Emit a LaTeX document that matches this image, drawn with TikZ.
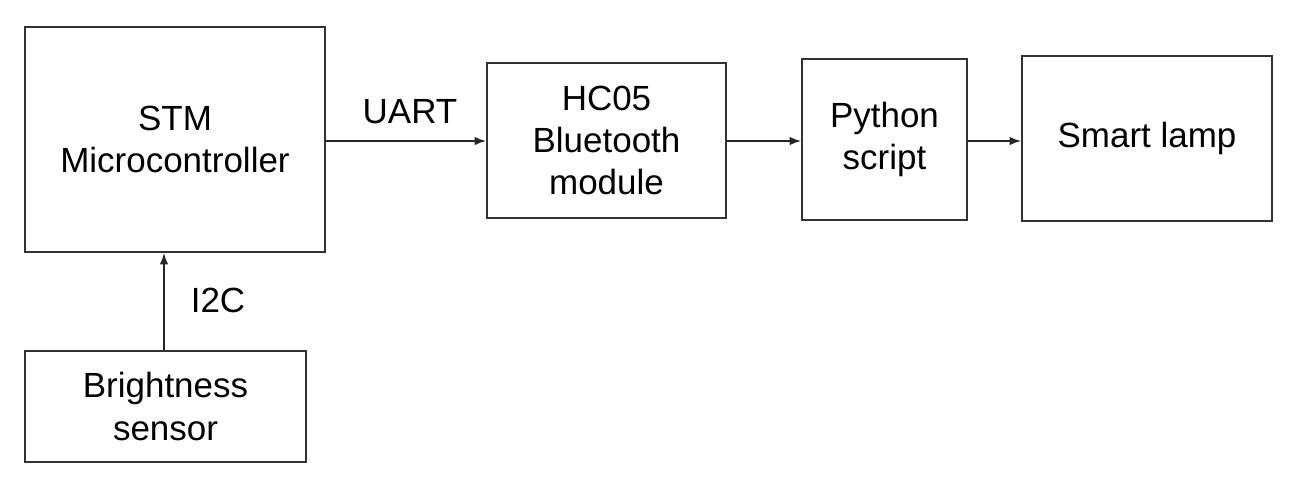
\documentclass[tikz,border=0pt]{standalone}
\usepackage{fontspec}
\setmainfont{Liberation Sans}
\usetikzlibrary{positioning}
\usetikzlibrary{arrows.meta}

\begin{document}
\begin{tikzpicture}[>={Latex[length=2.3mm,width=1.7mm]}, font=\fontsize{19.9}{24}\selectfont,
                    block/.style={rectangle,draw=black!80,line width=1.1pt,inner sep=0pt,align=center},
                    link/.style={->,draw=black!85,line width=0.8pt}]
      \useasboundingbox (0,0) rectangle (26.08,9.72);

      \node[block, minimum width=6cm, minimum height=4.5cm] (stm) at (3.5,6.93) {STM\\Microcontroller};
      \node[block, minimum width=4.78cm, minimum height=3.1cm] (hc) at (12.13,6.91) {HC05\\Bluetooth\\module};
      \node[block, minimum width=3.3cm, minimum height=3.22cm] (py) at (17.69,6.93) {Python\\script};
      \node[block, minimum width=5cm, minimum height=3.3cm] (lamp) at (22.94,6.95) {Smart lamp};
      \node[block, minimum width=5.62cm, minimum height=2.22cm] (sensor) at (3.31,1.59) {Brightness\\sensor};

      \coordinate (a1) at (stm.east |- 0,6.9);
      \coordinate (a2) at (hc.west |- 0,6.9);
      \coordinate (b1) at (hc.east |- 0,6.9);
      \coordinate (b2) at (py.west |- 0,6.9);
      \coordinate (c1) at (py.east |- 0,6.9);
      \coordinate (c2) at (lamp.west |- 0,6.9);
      \coordinate (d1) at (sensor.north -| 3.28,0);
      \coordinate (d2) at (stm.south -| 3.28,0);

      \path
	(a1) edge[link] (a2)
	(b1) edge[link] (b2)
	(c1) edge[link] (c2)
	(d1) edge[link] (d2);

      \node (uart) at (8.2,7.48) {UART};
      \node (i2c) at (4.36,3.72) {I2C};

\end{tikzpicture}
\end{document}
